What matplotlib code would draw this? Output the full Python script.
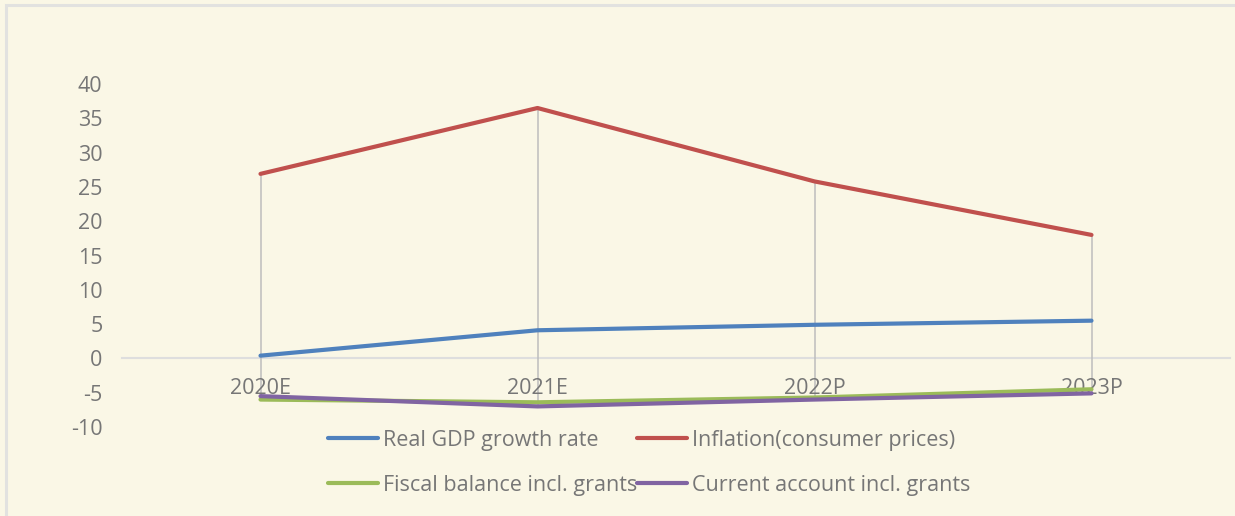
import numpy as np
import matplotlib.pyplot as plt
from matplotlib.patches import Rectangle

plt.rcParams['font.family'] = ['Open Sans', 'DejaVu Sans']
plt.rcParams['axes.unicode_minus'] = False

# data
years = ['2020E', '2021E', '2022P', '2023P']
gdp = [0.4, 4.1, 4.9, 5.5]
inflation = [26.9, 36.5, 25.8, 18.0]
fiscal = [-6.0, -6.4, -5.7, -4.5]
current = [-5.5, -7.0, -6.0, -5.1]

labels = ['Real GDP growth rate', 'Inflation(consumer prices)',
          'Fiscal balance incl. grants', 'Current account incl. grants']
colors = ['#4f81bd', '#c0504d', '#9bbb59', '#8064a2']

bg = '#faf7e6'
txt = '#767676'

fig = plt.figure(figsize=(12.35, 5.16), dpi=100, facecolor=bg)
fig.patches.append(Rectangle((6 / 1235, -0.1), 1.2, 1 - 5 / 516 + 0.1,
                             transform=fig.transFigure, fill=False,
                             edgecolor='#e2e2e0', linewidth=2.2))
ax = fig.add_axes([122 / 1235, 1 - 427 / 516, (1230 - 122) / 1235, (427 - 84) / 516])
ax.set_facecolor(bg)

x = np.arange(len(years))
series = [gdp, inflation, fiscal, current]

# high-low lines
allv = np.array(series)
ax.vlines(x, allv.min(axis=0), allv.max(axis=0), color='#bdbdbd', linewidth=1.1, zorder=1)

lines = []
for s, c, lab in zip(series, colors, labels):
    ln, = ax.plot(x, s, color=c, linewidth=3, label=lab, solid_capstyle='round', zorder=3)
    lines.append(ln)

ax.set_xlim(-0.5, 3.5)
ax.set_ylim(-10, 40)
ax.set_yticks(range(-10, 41, 5))
ax.set_xticks(x)
ax.set_xticklabels(years)

for sp in ['top', 'right', 'left']:
    ax.spines[sp].set_visible(False)
ax.spines['bottom'].set_position(('data', 0))
ax.spines['bottom'].set_color('#dedede')
ax.spines['bottom'].set_linewidth(1.5)
ax.spines['bottom'].set_zorder(0)

ax.tick_params(axis='y', length=0, pad=14, labelsize=15.5, labelcolor=txt)
ax.tick_params(axis='x', length=0, pad=14, labelsize=15.5, labelcolor=txt)

order = [0, 2, 1, 3]
ax.legend([lines[i] for i in order], [labels[i] for i in order], ncol=2,
          loc='upper left', bbox_to_anchor=(328 / 1235, 1 - 430 / 516),
          bbox_transform=fig.transFigure, frameon=False, fontsize=15.5,
          labelcolor=txt, handlelength=2.3, handletextpad=0.25,
          columnspacing=0.0, labelspacing=1.1, borderpad=0, borderaxespad=0)

fig.savefig('out.png', dpi=100, facecolor=bg)
